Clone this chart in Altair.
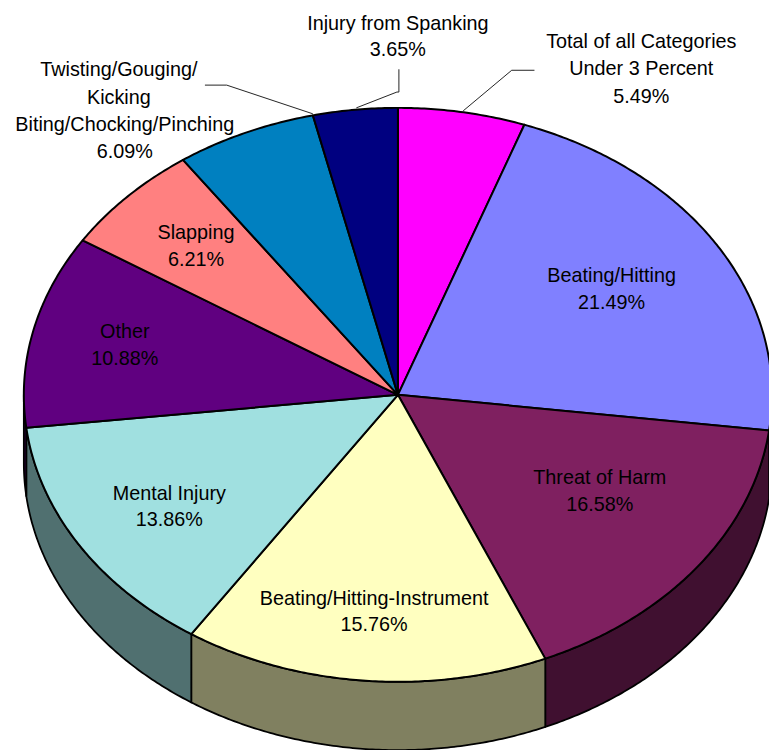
import math
import altair as alt

categories = ["Total of all Categories Under 3 Percent", "Beating/Hitting", "Threat of Harm",
              "Beating/Hitting-Instrument", "Mental Injury", "Other", "Slapping",
              "Twisting/Gouging/Kicking Biting/Chocking/Pinching", "Injury from Spanking"]
shares = [5.49, 21.49, 16.58, 15.76, 13.86, 10.88, 6.21, 6.09, 3.65]
top_colors = ["#FF00FF", "#8080FF", "#7F2060", "#FFFFC0", "#A0E0E0", "#600080", "#FF8080", "#0080C0", "#000080"]
side_colors = ["#800080", "#404080", "#401030", "#808060", "#507070", "#300040", "#804040", "#004060", "#000040"]

label_text = ["Total of all Categories", "Under 3 Percent", "5.49%",
              "Injury from Spanking", "3.65%",
              "Twisting/Gouging/", "Kicking", "Biting/Chocking/Pinching", "6.09%",
              "Slapping", "6.21%", "Other", "10.88%",
              "Beating/Hitting", "21.49%", "Threat of Harm", "16.58%",
              "Mental Injury", "13.86%", "Beating/Hitting-Instrument", "15.76%"]
label_x = [648, 648, 648, 402, 402, 120, 120, 126, 126, 198, 198, 126, 126,
           618, 618, 606, 606, 171, 171, 378, 378]
label_y = [39, 66, 94, 20, 47, 67, 95, 122, 150, 232, 259, 332, 359,
           275, 302, 479, 506, 495, 522, 601, 628]

leaders = [
    [[468, 108], [517, 67], [540, 67]],
    [[360, 105], [401, 89], [403, 89], [403, 66]],
    [[316, 111], [229, 82], [207, 82]],
]

CX, CY, RX, RY, DEPTH = 402.0, 395.0, 378.0, 290.0, 69.0
total = sum(shares)


def pt(t, dy=0.0):
    return [CX + RX * math.sin(t), CY - RY * math.cos(t) + dy]


def arc(t0, t1):
    n = max(2, int(abs(t1 - t0) / math.radians(0.5)))
    return [t0 + (t1 - t0) * i / n for i in range(n + 1)]


tops, sides = [], []
acc = 0.0
for s, tc, sc in zip(shares, top_colors, side_colors):
    t0 = acc / total * 2 * math.pi
    acc += s
    t1 = acc / total * 2 * math.pi
    ring = [[CX, CY]] + [pt(t) for t in arc(t0, t1)] + [[CX, CY]]
    tops.append({"type": "Feature", "properties": {"color": tc},
                 "geometry": {"type": "Polygon", "coordinates": [ring]}})
    a, b = max(t0, math.pi / 2), min(t1, 3 * math.pi / 2)
    if a < b:
        ts = arc(a, b)
        ring = [pt(t) for t in ts] + [pt(t, DEPTH) for t in reversed(ts)]
        ring.append(ring[0])
        sides.append({"type": "Feature", "properties": {"color": sc},
                      "geometry": {"type": "Polygon", "coordinates": [ring]}})

lines = [{"type": "Feature", "properties": {},
          "geometry": {"type": "LineString", "coordinates": c}} for c in leaders]


def proj(chart):
    return chart.project(type="identity", scale=1, translate=[-8, -8])


def fc(features):
    return alt.InlineData(values={"type": "FeatureCollection", "features": features},
                          format=alt.DataFormat(type="json", property="features"))


side_layer = proj(alt.Chart(fc(sides)).mark_geoshape(stroke="#000000", strokeWidth=1.8, strokeJoin="round").encode(
    fill=alt.Fill("properties.color:N", scale=None)))
top_layer = proj(alt.Chart(fc(tops)).mark_geoshape(stroke="#000000", strokeWidth=2, strokeJoin="round").encode(
    fill=alt.Fill("properties.color:N", scale=None)))
line_layer = proj(alt.Chart(fc(lines)).mark_geoshape(filled=False, stroke="#222222", strokeWidth=1))

labels = proj(alt.Chart(alt.Data(values=[{"text": t, "x": x, "y": y}
                                         for t, x, y in zip(label_text, label_x, label_y)])).mark_text(
    font="Liberation Sans", fontSize=20, color="#000000", align="center", baseline="middle"
).encode(longitude="x:Q", latitude="y:Q", text="text:N"))

chart = alt.layer(side_layer, top_layer, line_layer, labels).properties(
    width=769, height=746, padding=0, background="#ffffff"
).configure_view(stroke=None)

chart.save("out.html", embed_options={"renderer": "svg", "actions": False})
